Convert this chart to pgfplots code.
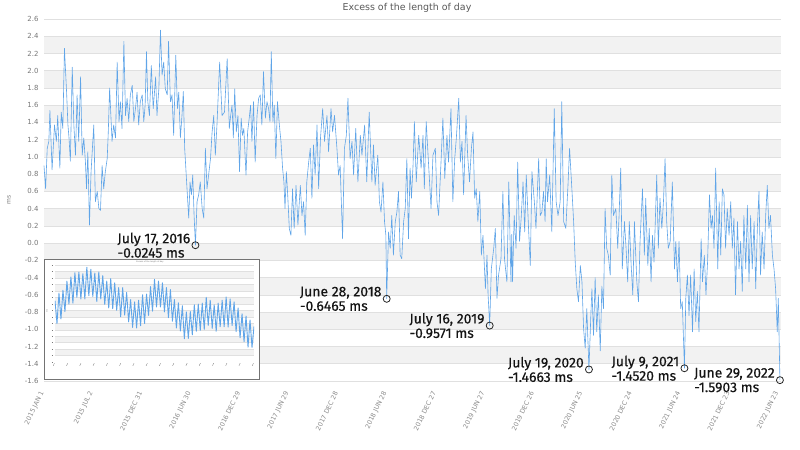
\documentclass[border=0pt]{standalone}
\usepackage{fontspec}
\setmainfont{DejaVu Sans}
\newfontfamily\annfont{Fira Sans}[FakeBold=0.4]
\usepackage{pgfplots}
\usepackage{pgfplotstable}
\pgfplotsset{compat=1.18}
\definecolor{lodblue}{RGB}{96,165,232}
\definecolor{band}{RGB}{242,242,242}
\definecolor{gridc}{RGB}{224,224,224}
\definecolor{tickc}{RGB}{120,120,120}

% day index from 2015-01-01, excess LOD (ms)
\pgfplotstableread{
day lod
0 0.90
6 0.63
12 1.10
18 1.18
22 1.54
30 0.85
39 1.37
46 1.18
51 1.48
59 0.87
64 1.52
70 1.33
76 2.26
84 1.75
89 1.37
93 1.22
98 0.95
105 2.04
111 1.37
117 1.02
123 1.72
129 1.18
136 1.93
142 1.02
148 1.22
154 0.94
158 0.63
163 1.06
169 0.21
175 0.83
180 1.10
185 1.37
191 0.48
198 0.60
204 0.40
210 0.38
216 0.90
222 0.63
228 0.83
235 0.98
239 1.29
244 1.80
253 1.18
259 1.37
266 1.22
272 2.10
279 1.41
284 1.64
290 1.33
297 2.34
303 1.48
309 1.68
315 1.41
321 1.72
328 1.83
334 1.41
340 1.56
346 1.75
352 1.37
358 1.64
365 1.72
371 1.41
376 1.60
381 2.22
386 1.64
392 1.48
399 2.06
406 1.56
410 1.72
415 1.93
420 1.48
427 1.79
433 2.47
439 1.95
445 2.10
451 1.79
458 1.72
463 2.34
470 1.64
476 1.72
482 1.25
490 2.18
496 1.56
501 1.75
507 1.22
513 1.48
518 1.76
523 1.10
528 0.83
533 0.56
538 0.29
543 0.71
548 0.56
553 0.79
558 0.32
563 -0.0245
569 0.48
575 0.56
581 0.71
588 0.40
594 0.29
600 1.10
606 0.63
612 0.79
619 0.98
625 1.29
631 1.48
637 1.02
643 1.37
653 2.10
662 1.48
671 1.52
681 2.14
689 1.33
694 1.48
699 1.60
704 1.22
709 1.79
715 1.29
721 1.48
727 0.83
733 1.45
738 1.25
743 1.33
751 0.79
757 1.29
763 1.45
768 1.60
773 1.18
779 1.64
785 0.94
792 1.48
798 1.68
804 1.72
810 1.37
816 1.99
823 1.45
829 1.64
835 1.56
840 1.41
845 2.22
851 1.41
856 1.60
862 0.98
868 1.64
875 1.37
881 1.18
887 0.87
892 0.71
896 0.40
901 0.83
906 0.56
912 0.17
918 0.09
924 0.63
930 0.17
937 0.67
944 0.21
953 0.67
959 0.32
965 0.48
971 0.09
977 0.71
984 0.94
990 1.10
996 0.52
1002 1.14
1008 0.79
1015 1.37
1021 0.63
1028 1.22
1036 1.56
1043 1.18
1052 1.48
1058 1.06
1067 1.56
1073 1.29
1080 1.48
1089 1.10
1095 0.79
1101 0.90
1110 0.05
1117 1.10
1124 1.25
1130 1.68
1138 0.98
1145 1.18
1151 0.79
1159 1.33
1167 0.71
1176 1.25
1182 1.02
1192 1.37
1200 0.71
1209 1.52
1219 0.71
1225 1.14
1231 0.67
1241 1.02
1247 0.48
1253 0.36
1260 0.71
1266 0.25
1271 0.09
1274 -0.6465
1281 0.13
1287 -0.06
1293 0.32
1299 -0.14
1306 0.25
1312 0.36
1318 0.60
1324 -0.14
1330 -0.18
1337 0.25
1343 0.40
1349 0.98
1355 0.05
1361 0.87
1366 0.52
1372 0.90
1377 1.41
1384 0.71
1393 1.25
1402 0.87
1409 1.25
1414 0.63
1421 1.41
1430 0.90
1439 0.40
1446 1.02
1455 1.10
1461 0.48
1467 0.32
1476 0.94
1483 1.45
1490 0.75
1498 1.25
1504 0.94
1513 1.56
1520 0.48
1527 0.98
1533 1.22
1542 1.68
1548 0.94
1554 1.18
1560 0.56
1569 1.48
1575 1.02
1582 0.71
1589 1.10
1595 1.29
1601 0.52
1607 0.63
1613 0.25
1620 0.60
1626 -0.14
1632 0.09
1641 -0.53
1647 -0.14
1651 -0.60
1657 -0.9571
1663 -0.30
1672 -0.06
1678 0.17
1684 -0.64
1690 -0.37
1699 -0.18
1706 0.60
1712 -0.18
1721 -0.45
1728 0.71
1736 -0.45
1739 0.10
1742 -0.45
1748 0.32
1755 -0.06
1761 0.94
1768 0.02
1774 0.29
1781 0.71
1787 0.13
1793 0.79
1802 0.13
1808 -0.26
1814 0.83
1823 0.48
1829 0.17
1839 0.98
1845 0.32
1851 0.36
1857 0.60
1863 0.25
1867 0.98
1872 0.48
1880 0.79
1888 0.13
1897 1.56
1904 0.48
1911 0.32
1919 0.48
1925 1.64
1932 0.25
1940 0.17
1948 0.67
1954 1.10
1963 0.60
1969 0.25
1975 -0.22
1981 -0.53
1987 -0.68
1994 -0.26
2000 -0.45
2006 -0.99
2012 -1.22
2018 -0.76
2026 -1.4663
2033 -0.84
2037 -0.53
2043 -1.07
2049 -0.40
2055 -1.03
2061 -0.60
2068 -1.25
2074 -0.50
2080 -0.76
2086 0.40
2092 -0.06
2098 -0.14
2105 -0.37
2111 0.79
2117 0.32
2126 0.40
2133 -0.06
2138 0.32
2144 0.87
2150 -0.30
2158 0.25
2164 -0.06
2170 -0.45
2176 0.25
2183 -0.26
2189 -0.60
2195 0.25
2204 -0.45
2210 -0.68
2216 0.02
2225 0.63
2232 -0.14
2237 0.52
2245 -0.26
2250 0.17
2257 -0.45
2262 0.09
2268 -0.22
2278 0.79
2284 -0.06
2290 0.52
2297 0.17
2303 0.48
2309 0.98
2315 0.25
2321 -0.06
2328 0.02
2336 0.71
2344 -0.30
2349 0.02
2355 -0.45
2361 0.02
2367 -0.76
2373 -0.68
2381 -1.4520
2386 -0.64
2392 -0.37
2398 -0.84
2404 -0.37
2411 -1.03
2417 -0.30
2423 -0.91
2429 -0.56
2435 -1.03
2443 0.05
2448 -0.45
2455 -0.14
2461 -0.60
2467 -0.22
2474 0.56
2480 0.17
2485 0.32
2491 -0.06
2497 0.87
2505 -0.30
2510 0.48
2516 -0.14
2522 0.63
2528 0.56
2534 -0.06
2540 0.40
2547 0.09
2553 0.48
2559 -0.06
2565 0.29
2571 -0.60
2578 0.25
2584 -0.30
2590 0.02
2596 -0.56
2602 0.32
2609 -0.30
2615 0.44
2621 -0.45
2627 0.32
2633 -0.30
2640 0.25
2646 -0.53
2652 0.17
2658 0.60
2664 -0.37
2670 0.13
2677 -0.30
2683 0.32
2689 0.67
2695 0.17
2701 0.32
2708 -0.14
2714 -0.30
2720 -0.53
2726 -1.03
2730 -0.64
2736 -1.5903
}\loddata

% inset chart (relative units)
\pgfplotstableread{
i v
0 1.50
1 0.79
2 1.73
3 0.93
4 1.82
5 1.16
6 2.10
7 1.39
8 2.23
9 1.42
10 2.36
11 1.60
12 2.38
13 1.55
14 2.33
15 1.55
16 2.53
17 1.65
18 2.47
19 1.63
20 2.35
21 1.47
22 2.38
23 1.55
24 2.27
25 1.38
26 2.10
27 1.27
28 2.18
29 1.25
30 2.05
31 1.20
32 1.90
33 1.00
34 1.90
35 1.05
36 1.75
37 0.84
38 1.53
39 0.67
40 1.46
41 0.65
42 1.51
43 0.72
44 1.68
45 0.79
46 1.70
47 1.04
48 1.93
49 1.17
50 2.16
51 1.30
52 2.10
53 1.30
54 2.05
55 1.15
56 1.90
57 0.97
58 1.84
59 0.86
60 1.53
61 0.65
62 1.43
63 0.56
64 1.34
65 0.32
66 1.15
67 0.33
68 1.16
69 0.44
70 1.37
71 0.55
72 1.39
73 0.58
74 1.42
75 0.61
76 1.60
77 0.73
78 1.51
79 0.64
80 1.37
81 0.55
82 1.42
83 0.69
84 1.51
85 0.69
86 1.61
87 0.68
88 1.55
89 0.73
90 1.46
91 0.54
92 1.27
93 0.35
94 1.09
95 0.23
96 1.02
97 0.06
98 0.90
99 0.05
100 0.70
}\insetdata

\begin{document}
\begin{tikzpicture}
\fill[white] (0bp,0bp) rectangle (800bp,450bp);
\node[font=\fontsize{9.5}{11}\selectfont, text=black!65] at (407bp,442bp) {Excess of the length of day};
\node[rotate=90, font=\fontsize{6}{7}\selectfont, text=tickc] at (9bp,250bp) {ms};
\begin{axis}[
  at={(44bp,69bp)}, anchor=south west,
  scale only axis, width=737bp, height=362bp,
  xmin=0, xmax=2740, ymin=-1.6, ymax=2.6,
  axis line style={draw=none},
  major tick length=0pt,
  ytick={-1.6,-1.4,-1.2,-1.0,-0.8,-0.6,-0.4,-0.2,0,0.2,0.4,0.6,0.8,1.0,1.2,1.4,1.6,1.8,2.0,2.2,2.4,2.6},
  yticklabels={-1.6,-1.4,-1.2,-1.0,-0.8,-0.6,-0.4,-0.2,0.0,0.2,0.4,0.6,0.8,1.0,1.2,1.4,1.6,1.8,2.0,2.2,2.4,2.6},
  yticklabel style={font=\fontsize{7}{8}\selectfont, text=tickc, xshift=-2bp},
  xtick={0,182,364,546,728,910,1092,1274,1456,1638,1820,2002,2184,2366,2548,2730},
  xticklabels={2015 JAN 1,2015 JUL 2,2015 DEC 31,2016 JUN 30,2016 DEC 29,2017 JUN 29,2017 DEC 28,2018 JUN 28,2018 DEC 27,2019 JUN 27,2019 DEC 26,2020 JUN 25,2020 DEC 24,2021 JUN 24,2021 DEC 23,2022 JUN 23},
  xticklabel style={yshift=-8bp, rotate=64, anchor=east, font=\fontsize{6.5}{7}\selectfont, text=black!45},
  clip=false,
]
\fill[band] (axis cs:0,-1.4) rectangle (axis cs:2740,-1.2);
\fill[band] (axis cs:0,-1.0) rectangle (axis cs:2740,-0.8);
\fill[band] (axis cs:0,-0.6) rectangle (axis cs:2740,-0.4);
\fill[band] (axis cs:0,-0.2) rectangle (axis cs:2740,0.0);
\fill[band] (axis cs:0,0.2) rectangle (axis cs:2740,0.4);
\fill[band] (axis cs:0,0.6) rectangle (axis cs:2740,0.8);
\fill[band] (axis cs:0,1.0) rectangle (axis cs:2740,1.2);
\fill[band] (axis cs:0,1.4) rectangle (axis cs:2740,1.6);
\fill[band] (axis cs:0,1.8) rectangle (axis cs:2740,2.0);
\fill[band] (axis cs:0,2.2) rectangle (axis cs:2740,2.4);
\pgfplotsinvokeforeach{-1.6,-1.4,-1.2,-1.0,-0.8,-0.6,-0.4,-0.2,0,0.2,0.4,0.6,0.8,1.0,1.2,1.4,1.6,1.8,2.0,2.2,2.4,2.6}{
  \draw[gridc, line width=0.6bp] (axis cs:0,#1) -- (axis cs:2740,#1);
}
\addplot[lodblue, line width=0.6bp, line join=round] table[x=day, y=lod] {\loddata};
\addplot[only marks, mark=o, mark size=3.5bp, mark options={black!85, line width=0.8bp}] coordinates {(563,-0.0245) (1274,-0.6465) (1657,-0.9571) (2026,-1.4663) (2381,-1.4520) (2736,-1.5903)};
\begin{scope}[every node/.style={anchor=east, align=left, font=\annfont\fontsize{14}{14.5}\selectfont, text=black!92, inner sep=0pt, xshift=-5bp}]
\node at (axis cs:563,-0.0245) {July 17, 2016\\-0.0245 ms};
\node at (axis cs:1274,-0.6465) {June 28, 2018\\-0.6465 ms};
\node at (axis cs:1657,-0.9571) {July 16, 2019\\-0.9571 ms};
\node at (axis cs:2026,-1.4663) {July 19, 2020\\-1.4663 ms};
\node at (axis cs:2381,-1.4520) {July 9, 2021\\-1.4520 ms};
\node at (axis cs:2736,-1.5903) {June 29, 2022\\-1.5903 ms};
\end{scope}
\end{axis}
\fill[white] (44bp,71bp) rectangle (259bp,191bp);
\draw[black!55, line width=0.8bp] (44bp,71bp) rectangle (259bp,191bp);
\node[font=\fontsize{2}{2}\selectfont, text=tickc] at (150bp,188bp) {Excess of the length of day};
\node[rotate=90, font=\fontsize{2}{2}\selectfont, text=tickc] at (47bp,139bp) {ms};
\begin{axis}[
  at={(55bp,88bp)}, anchor=south west,
  scale only axis, width=199bp, height=97bp,
  xmin=0, xmax=100, ymin=-0.4, ymax=2.6,
  axis line style={draw=none},
  major tick length=0pt,
  ytick={-0.4,-0.2,0,0.2,0.4,0.6,0.8,1.0,1.2,1.4,1.6,1.8,2.0,2.2,2.4,2.6},
  yticklabel={\color{tickc}\rule{1.5bp}{0.3bp}},
  xtick={0,6.67,13.33,20,26.67,33.33,40,46.67,53.33,60,66.67,73.33,80,86.67,93.33,100},
  xticklabel={\color{tickc}\rule{3bp}{0.3bp}},
  xticklabel style={rotate=65, anchor=east, inner sep=1bp},
  yticklabel style={inner sep=1.5bp},
]
\fill[band] (axis cs:0,-0.2) rectangle (axis cs:100,0.0);
\fill[band] (axis cs:0,0.2) rectangle (axis cs:100,0.4);
\fill[band] (axis cs:0,0.6) rectangle (axis cs:100,0.8);
\fill[band] (axis cs:0,1.0) rectangle (axis cs:100,1.2);
\fill[band] (axis cs:0,1.4) rectangle (axis cs:100,1.6);
\fill[band] (axis cs:0,1.8) rectangle (axis cs:100,2.0);
\fill[band] (axis cs:0,2.2) rectangle (axis cs:100,2.4);
\pgfplotsinvokeforeach{-0.4,-0.2,0,0.2,0.4,0.6,0.8,1.0,1.2,1.4,1.6,1.8,2.0,2.2,2.4,2.6}{
  \draw[gridc, line width=0.3bp] (axis cs:0,#1) -- (axis cs:100,#1);
}
\addplot[lodblue, line width=0.9bp, line join=round] table[x=i, y=v] {\insetdata};
\end{axis}
\end{tikzpicture}
\end{document}
